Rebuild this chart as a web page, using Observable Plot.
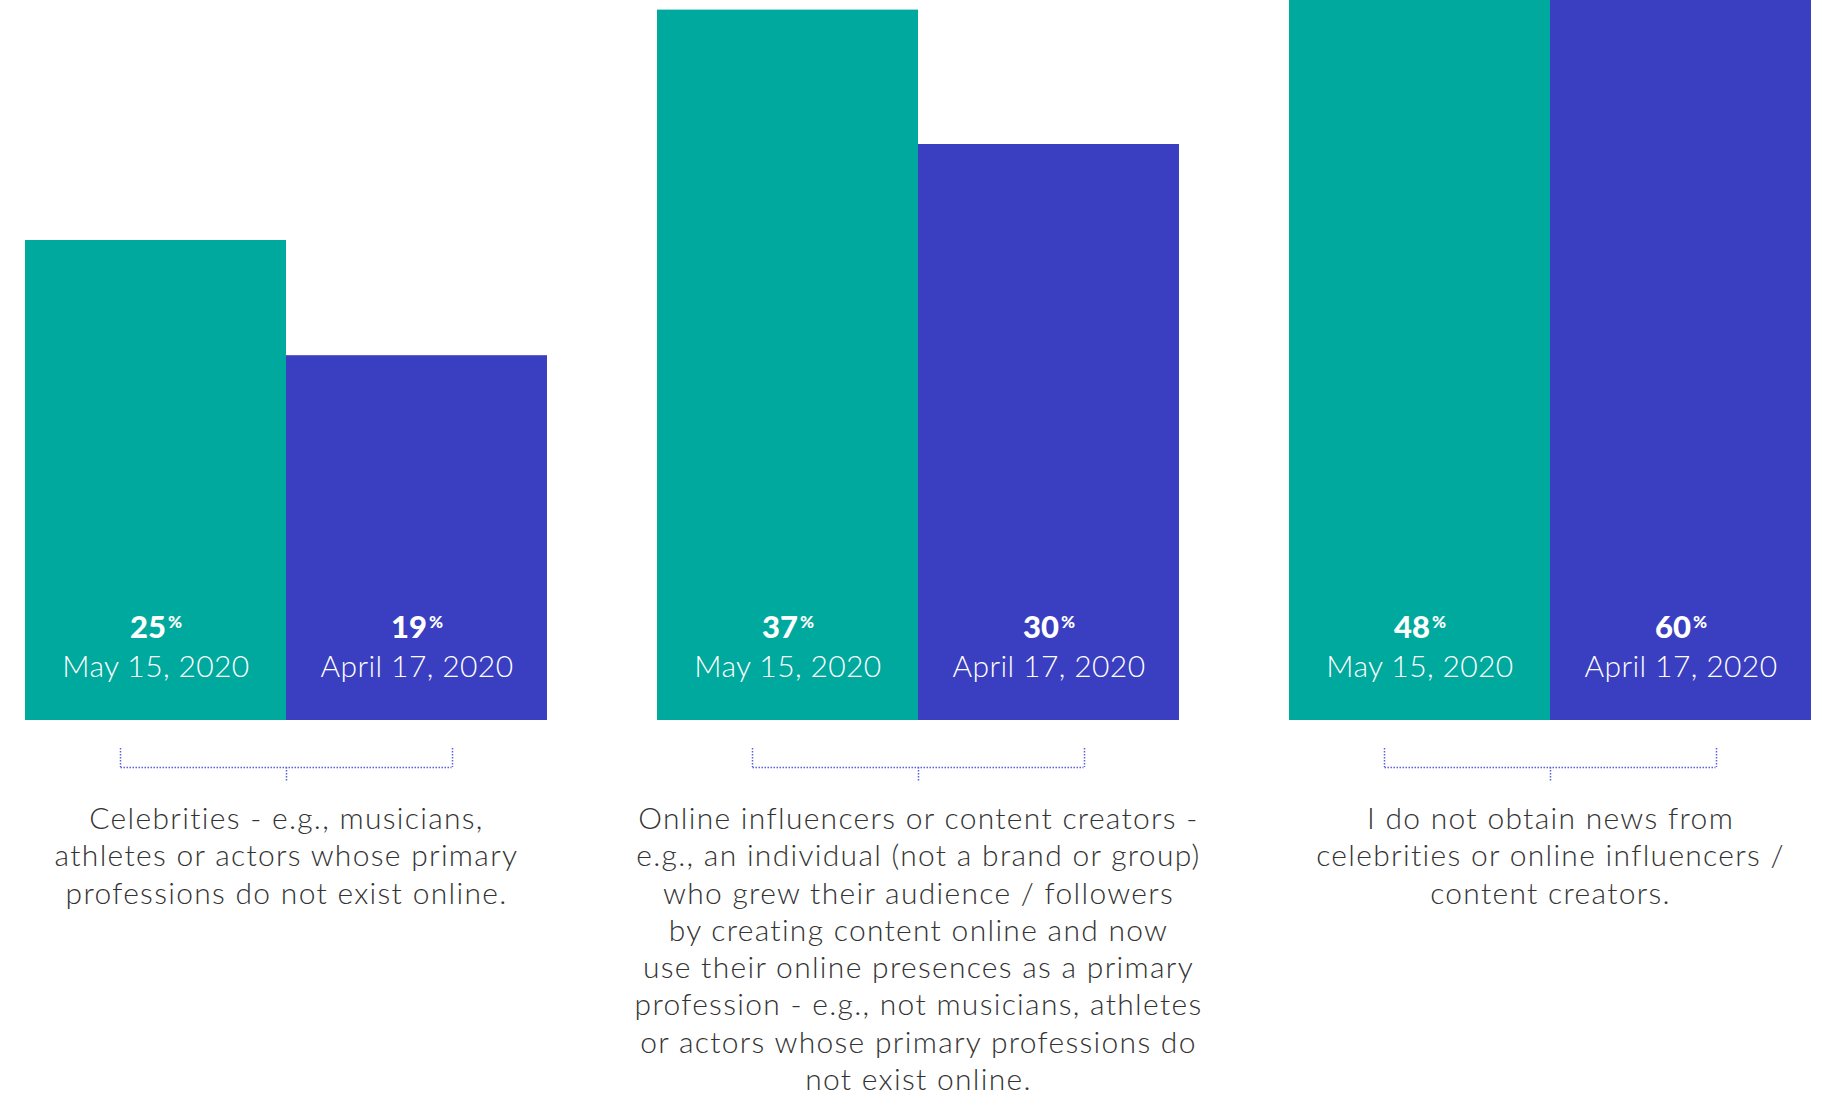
<!DOCTYPE html>
<html>
<head>
<meta charset="utf-8">
<script src="https://cdn.jsdelivr.net/npm/d3@7"></script>
<script src="https://cdn.jsdelivr.net/npm/@observablehq/plot@0.6"></script>
<style>
  html, body { margin: 0; padding: 0; background: #ffffff; overflow: hidden; }
  #chart svg { display: block; }
  #chart g[fill="#333333"] { letter-spacing: 1.3px; }
  #chart g[font-weight="300"][fill="white"] { letter-spacing: 0.4px; }
</style>
</head>
<body>
<div id="chart"></div>
<script>
// ---- data ----
const groupKeys = ["Celebrities", "Influencers", "None"];
const groupLabels = [
  "Celebrities - e.g., musicians,\nathletes or actors whose primary\nprofessions do not exist online.",
  "Online influencers or content creators -\ne.g., an individual (not a brand or group)\nwho grew their audience / followers\nby creating content online and now\nuse their online presences as a primary\nprofession - e.g., not musicians, athletes\nor actors whose primary professions do\nnot exist online.",
  "I do not obtain news from\ncelebrities or online influencers /\ncontent creators."
];
const dates = ["May 15, 2020", "April 17, 2020"];
const may15 = [25, 37, 48];
const april17 = [19, 30, 60];

// ---- styling ----
const teal = "#00a99d";
const blue = "#3a3ec0";
const bracketColor = "#5b5fd8";
const W = 1837, H = 1098;
const plotBottom = 720;

const rows = [];
groupKeys.forEach((g, i) => {
  rows.push({group: g, date: dates[0], value: may15[i]});
  rows.push({group: g, date: dates[1], value: april17[i]});
});
const groupRows = groupKeys.map((g, i) => ({group: g, label: groupLabels[i]}));

const dotted = {stroke: bracketColor, strokeWidth: 1.5, strokeDasharray: "1.5 1.5"};

const chart = Plot.plot({
  width: W,
  height: H,
  marginLeft: 24,
  marginRight: 25,
  marginTop: 0,
  marginBottom: H - plotBottom,
  style: {background: "#ffffff", overflow: "visible"},
  fx: {domain: groupKeys, paddingInner: 0.1738, paddingOuter: 0, axis: null},
  x: {domain: dates, padding: 0, axis: null},
  y: {domain: [0, 37.5], axis: null},
  color: {domain: dates, range: [teal, blue]},
  marks: [
    Plot.barY(rows, {fx: "group", x: "date", y: "value", fill: "date", clip: "frame"}),
    // value labels
    Plot.text(rows, {
      fx: "group", x: "date", frameAnchor: "bottom", lineAnchor: "bottom",
      text: d => String(d.value), textAnchor: "end", dx: 10, dy: -83,
      fill: "white", fontFamily: "Lato", fontWeight: 900, fontSize: 31
    }),
    Plot.text(rows, {
      fx: "group", x: "date", frameAnchor: "bottom", lineAnchor: "bottom",
      text: () => "%", textAnchor: "start", dx: 12, dy: -93,
      fill: "white", fontFamily: "Lato", fontWeight: 900, fontSize: 17
    }),
    Plot.text(rows, {
      fx: "group", x: "date", frameAnchor: "bottom", lineAnchor: "bottom",
      text: "date", dy: -44,
      fill: "white", fontFamily: "Lato", fontWeight: 300, fontSize: 30
    }),
    // bracket
    Plot.ruleY(groupRows, {fx: "group", y: () => 0, insetLeft: 95.5, insetRight: 95.5, dy: 47, ...dotted}),
    Plot.ruleX(groupRows, {fx: "group", x: null, insetTop: plotBottom - 19, dx: -166, dy: 47, ...dotted}),
    Plot.ruleX(groupRows, {fx: "group", x: null, insetTop: plotBottom - 19, dx: 166, dy: 47, ...dotted}),
    Plot.ruleX(groupRows, {fx: "group", x: null, insetTop: plotBottom - 15, dy: 62, ...dotted}),
    // category labels
    Plot.text(groupRows, {
      fx: "group", frameAnchor: "bottom", lineAnchor: "top", text: "label",
      dy: 82, lineHeight: 1.243, textAnchor: "middle",
      fill: "#333333", fontFamily: "Lato", fontWeight: 300, fontSize: 30
    })
  ]
});
document.getElementById("chart").appendChild(chart);
</script>
</body>
</html>
